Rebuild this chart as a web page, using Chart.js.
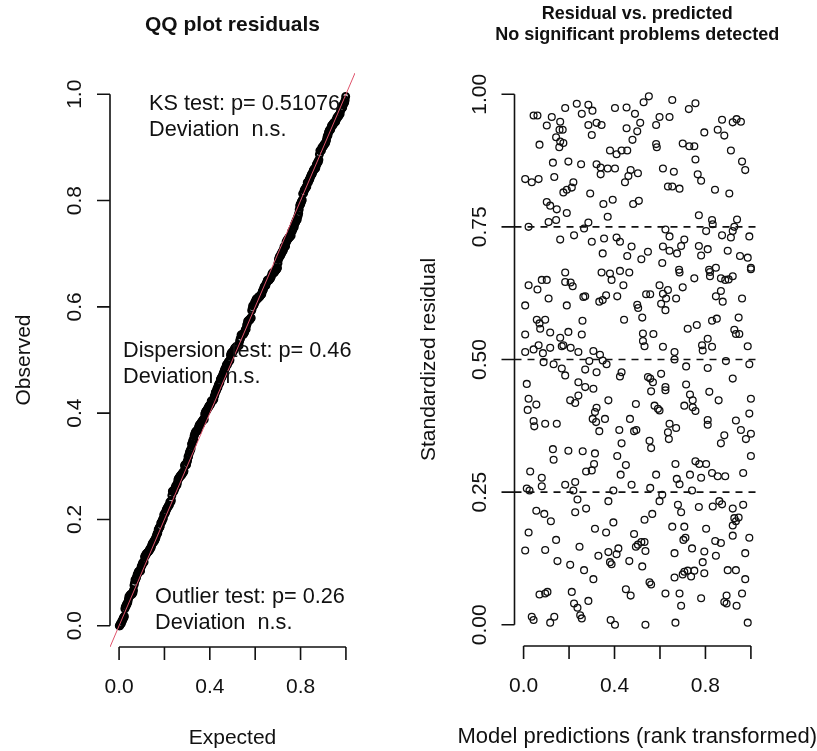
<!DOCTYPE html>
<html>
<head>
<meta charset="utf-8">
<script src="https://cdn.jsdelivr.net/npm/chart.js@4.4.1/dist/chart.umd.min.js"></script>
<style>
  body { margin: 0; background: #fff; }
  #wrap { position: relative; width: 817px; height: 751px; overflow: hidden; }
  canvas { position: absolute; top: 0; }
  #qq { left: 0; }
  #resid { left: 410px; }
</style>
</head>
<body>
<div id="wrap">
  <canvas id="qq" width="410" height="751"></canvas>
  <canvas id="resid" width="407" height="751"></canvas>
</div>
<script>
// scaled residuals: rank-transformed prediction (x) and residual (y)
var predX = [
  0.183, 0.234, 0.285, 0.256, 0.303, 0.402, 0.453, 0.490, 0.044, 0.061,
  0.124, 0.161, 0.102, 0.158, 0.172, 0.285, 0.321, 0.343, 0.453, 0.500,
  0.300, 0.143, 0.161, 0.175, 0.157, 0.070, 0.479, 0.380, 0.409, 0.431,
  0.456, 0.129, 0.197, 0.253, 0.321, 0.339, 0.370, 0.402, 0.339, 0.471,
  0.461, 0.446, 0.007, 0.036, 0.066, 0.135, 0.219, 0.212, 0.190, 0.175,
  0.293, 0.102, 0.117, 0.146, 0.190, 0.351, 0.392, 0.482, 0.370, 0.110,
  0.143, 0.022, 0.285, 0.266, 0.222, 0.161, 0.300, 0.354, 0.409, 0.424,
  0.475, 0.348, 0.456, 0.551, 0.528, 0.654, 0.756, 0.727, 0.513, 0.598,
  0.642, 0.583, 0.795, 0.873, 0.920, 0.937, 0.956, 0.854, 0.883, 0.583,
  0.586, 0.700, 0.729, 0.751, 0.912, 0.756, 0.961, 0.975, 0.613, 0.661,
  0.503, 0.766, 0.781, 0.635, 0.654, 0.686, 0.842, 0.905, 0.507, 0.771,
  0.829, 0.832, 0.939, 0.927, 0.624, 0.642, 0.707, 0.693, 0.803, 0.873,
  0.912, 0.920, 0.993, 0.613, 0.642, 0.675, 0.771, 0.810, 0.781, 0.547,
  0.518, 0.610, 0.898, 0.952, 0.986, 1.000, 0.846, 0.816, 0.684, 0.183,
  0.343, 0.380, 0.424, 0.465, 0.387, 0.022, 0.061, 0.080, 0.102, 0.183,
  0.207, 0.216, 0.439, 0.110, 0.271, 0.263, 0.363, 0.348, 0.333, 0.412,
  0.007, 0.190, 0.500, 0.504, 0.058, 0.095, 0.070, 0.073, 0.259, 0.442,
  0.007, 0.117, 0.197, 0.256, 0.161, 0.168, 0.175, 0.066, 0.044, 0.007,
  0.117, 0.085, 0.207, 0.241, 0.307, 0.336, 0.348, 0.365, 0.289, 0.088,
  0.132, 0.168, 0.183, 0.271, 0.321, 0.431, 0.424, 0.014, 0.241, 0.271,
  0.307, 0.022, 0.056, 0.018, 0.241, 0.205, 0.227, 0.373, 0.494, 0.321,
  0.314, 0.304, 0.319, 0.358, 0.468, 0.044, 0.047, 0.095, 0.146, 0.333,
  0.421, 0.486, 0.431, 0.129, 0.197, 0.260, 0.314, 0.686, 0.751, 0.820,
  0.820, 0.868, 0.887, 0.920, 0.902, 1.000, 0.700, 0.598, 0.613, 0.635,
  0.627, 0.605, 0.624, 0.539, 0.557, 0.671, 0.868, 0.846, 0.876, 0.961,
  0.522, 0.722, 0.762, 0.829, 0.850, 0.946, 0.525, 0.571, 0.525, 0.532,
  0.927, 0.934, 0.949, 0.810, 0.785, 0.829, 0.788, 0.613, 0.664, 0.664,
  0.986, 0.890, 0.993, 0.715, 0.810, 0.547, 0.557, 0.605, 0.569, 0.920,
  0.715, 0.561, 0.624, 0.624, 0.732, 0.744, 0.707, 0.744, 0.756, 0.817,
  0.858, 1.000, 0.576, 0.591, 0.598, 0.993, 0.642, 0.671, 0.635, 0.639,
  0.810, 0.810, 0.934, 0.956, 0.978, 1.000, 0.883, 0.868, 0.554, 0.561,
  0.496, 0.132, 0.412, 0.450, 0.427, 0.310, 0.300, 0.275, 0.029, 0.080,
  0.080, 0.014, 0.026, 0.183, 0.227, 0.219, 0.237, 0.395, 0.373, 0.475,
  0.056, 0.091, 0.120, 0.227, 0.275, 0.022, 0.314, 0.363, 0.395, 0.486,
  0.143, 0.007, 0.095, 0.246, 0.329, 0.373, 0.417, 0.409, 0.380, 0.387,
  0.494, 0.149, 0.205, 0.266, 0.307, 0.465, 0.070, 0.095, 0.105, 0.212,
  0.222, 0.237, 0.249, 0.256, 0.285, 0.450, 0.471, 0.036, 0.044, 0.135,
  0.117, 0.383, 0.402, 1.000, 0.668, 0.756, 0.773, 0.803, 0.966, 0.583,
  0.732, 0.781, 0.829, 0.854, 0.887, 0.674, 0.686, 0.557, 0.610, 0.598,
  0.741, 0.679, 0.693, 0.771, 0.832, 0.861, 0.873, 0.920, 0.966, 0.566,
  0.532, 0.927, 0.946, 0.920, 0.934, 0.654, 0.707, 0.803, 0.712, 0.703,
  0.920, 0.993, 0.518, 0.532, 0.503, 0.536, 0.741, 0.843, 0.868, 0.664,
  0.795, 0.846, 0.975, 0.788, 0.522, 0.707, 0.722, 0.700, 0.737, 0.751,
  0.795, 0.664, 0.898, 0.934, 0.975, 0.554, 0.561, 0.624, 0.686, 0.781,
  0.693, 0.893, 0.883, 0.893, 0.937, 0.961, 0.536, 0.668, 0.986
];
var residY = [
  0.974, 0.982, 0.980, 0.963, 0.969, 0.974, 0.975, 0.963, 0.960, 0.960,
  0.957, 0.948, 0.941, 0.933, 0.933, 0.942, 0.946, 0.942, 0.936, 0.930,
  0.923, 0.919, 0.911, 0.908, 0.900, 0.905, 0.914, 0.894, 0.887, 0.894,
  0.894, 0.871, 0.873, 0.868, 0.868, 0.862, 0.860, 0.860, 0.849, 0.857,
  0.846, 0.834, 0.840, 0.834, 0.840, 0.844, 0.834, 0.824, 0.820, 0.815,
  0.813, 0.797, 0.790, 0.783, 0.776, 0.793, 0.801, 0.793, 0.769, 0.759,
  0.763, 0.750, 0.758, 0.747, 0.734, 0.726, 0.722, 0.728, 0.730, 0.722,
  0.713, 0.700, 0.695, 0.996, 0.985, 0.989, 0.983, 0.972, 0.946, 0.957,
  0.957, 0.942, 0.928, 0.952, 0.947, 0.953, 0.948, 0.933, 0.922, 0.906,
  0.900, 0.907, 0.902, 0.902, 0.894, 0.877, 0.873, 0.857, 0.860, 0.854,
  0.851, 0.849, 0.837, 0.826, 0.826, 0.822, 0.820, 0.813, 0.799, 0.772,
  0.763, 0.755, 0.764, 0.750, 0.745, 0.732, 0.726, 0.714, 0.742, 0.734,
  0.730, 0.742, 0.732, 0.713, 0.705, 0.700, 0.714, 0.708, 0.696, 0.703,
  0.689, 0.682, 0.705, 0.695, 0.692, 0.673, 0.673, 0.669, 0.669, 0.664,
  0.664, 0.662, 0.667, 0.664, 0.650, 0.640, 0.632, 0.650, 0.650, 0.646,
  0.645, 0.638, 0.640, 0.615, 0.619, 0.618, 0.621, 0.612, 0.609, 0.619,
  0.602, 0.602, 0.603, 0.597, 0.575, 0.575, 0.568, 0.558, 0.573, 0.575,
  0.547, 0.551, 0.552, 0.547, 0.541, 0.525, 0.527, 0.527, 0.519, 0.514,
  0.522, 0.512, 0.522, 0.514, 0.516, 0.509, 0.498, 0.491, 0.497, 0.495,
  0.491, 0.483, 0.470, 0.481, 0.476, 0.476, 0.468, 0.454, 0.457, 0.448,
  0.445, 0.426, 0.415, 0.405, 0.432, 0.423, 0.418, 0.423, 0.416, 0.409,
  0.401, 0.388, 0.382, 0.388, 0.388, 0.384, 0.374, 0.379, 0.379, 0.365,
  0.367, 0.365, 0.342, 0.331, 0.328, 0.327, 0.323, 0.664, 0.653, 0.665,
  0.657, 0.653, 0.650, 0.657, 0.651, 0.670, 0.636, 0.640, 0.624, 0.631,
  0.615, 0.605, 0.593, 0.623, 0.623, 0.615, 0.629, 0.619, 0.609, 0.615,
  0.579, 0.558, 0.565, 0.573, 0.577, 0.579, 0.549, 0.548, 0.535, 0.525,
  0.556, 0.548, 0.548, 0.539, 0.527, 0.524, 0.517, 0.524, 0.514, 0.500,
  0.525, 0.497, 0.491, 0.487, 0.484, 0.467, 0.464, 0.473, 0.457, 0.464,
  0.453, 0.440, 0.448, 0.442, 0.434, 0.423, 0.413, 0.410, 0.403, 0.439,
  0.423, 0.426, 0.413, 0.407, 0.404, 0.398, 0.379, 0.371, 0.363, 0.350,
  0.386, 0.377, 0.385, 0.367, 0.350, 0.360, 0.357, 0.342, 0.347, 0.333,
  0.367, 0.311, 0.318, 0.301, 0.283, 0.303, 0.291, 0.289, 0.289, 0.277,
  0.261, 0.257, 0.253, 0.264, 0.269, 0.253, 0.236, 0.253, 0.233, 0.264,
  0.215, 0.209, 0.195, 0.212, 0.219, 0.174, 0.181, 0.174, 0.193, 0.171,
  0.160, 0.140, 0.141, 0.147, 0.130, 0.137, 0.144, 0.133, 0.118, 0.114,
  0.147, 0.120, 0.113, 0.103, 0.086, 0.120, 0.057, 0.059, 0.062, 0.062,
  0.040, 0.032, 0.018, 0.012, 0.045, 0.067, 0.055, 0.015, 0.009, 0.015,
  0.004, 0.009, 0.000, 0.318, 0.303, 0.308, 0.303, 0.303, 0.286, 0.283,
  0.283, 0.277, 0.286, 0.280, 0.280, 0.275, 0.265, 0.258, 0.245, 0.233,
  0.253, 0.226, 0.212, 0.222, 0.223, 0.233, 0.227, 0.219, 0.226, 0.209,
  0.198, 0.201, 0.202, 0.187, 0.195, 0.185, 0.185, 0.181, 0.164, 0.160,
  0.168, 0.164, 0.156, 0.156, 0.151, 0.139, 0.144, 0.158, 0.154, 0.135,
  0.138, 0.130, 0.135, 0.118, 0.110, 0.100, 0.102, 0.095, 0.091, 0.102,
  0.097, 0.089, 0.103, 0.103, 0.086, 0.080, 0.076, 0.059, 0.059, 0.050,
  0.036, 0.055, 0.043, 0.040, 0.036, 0.059, 0.000, 0.004, 0.004
];

var xTickValues = [0, 0.2, 0.4, 0.6, 0.8, 1.0];
var xTickLabels = ['0.0', '', '0.4', '', '0.8', ''];
var qqTickValues = [0, 0.2, 0.4, 0.6, 0.8, 1.0];
var qqTickLabels = ['0.0', '0.2', '0.4', '0.6', '0.8', '1.0'];
var residTickValues = [0, 0.25, 0.5, 0.75, 1.0];
var residTickLabels = ['0.00', '0.25', '0.50', '0.75', '1.00'];
var quantileLines = [0.25, 0.5, 0.75];

var testNotes = [
  ['KS test: p= 0.51076', 'Deviation  n.s.'],
  ['Dispersion test: p= 0.46', 'Deviation  n.s.'],
  ['Outlier test: p= 0.26', 'Deviation  n.s.']
];

// R style plot region: 4% padding around [0, 1]
var axisMin = -0.04, axisMax = 1.04;
var FONT = '"Liberation Sans", Arial, sans-serif';

// observed quantiles against uniform expectation
var qqObserved = residY.slice().sort(function(a, b){ return a - b; });
var qqPoints = qqObserved.map(function(v, i){
  return { x: (i + 0.5) / qqObserved.length, y: v };
});
var residPoints = predX.map(function(x, i){ return { x: x, y: residY[i] }; });

function text(ctx, str, x, y, size, bold, align, rotate) {
  ctx.save();
  ctx.font = (bold ? 'bold ' : '') + size + 'px ' + FONT;
  ctx.textAlign = align || 'center';
  ctx.textBaseline = 'alphabetic';
  ctx.translate(x, y);
  if (rotate) ctx.rotate(-Math.PI / 2);
  ctx.fillText(str, 0, 0);
  ctx.restore();
}

// base-graphics look: axes span first to last tick, ticks point outwards
var rStyle = {
  id: 'rStyle',
  afterDraw: function(chart, args, opts) {
    var ctx = chart.ctx, a = chart.chartArea;
    var xs = chart.scales.x, ys = chart.scales.y;
    var tick = 13;
    ctx.save();
    ctx.strokeStyle = '#111';
    ctx.fillStyle = '#111';
    ctx.lineWidth = 1.6;

    var x0 = xs.getPixelForValue(xTickValues[0]);
    var x1 = xs.getPixelForValue(xTickValues[xTickValues.length - 1]);
    ctx.beginPath();
    ctx.moveTo(x0, a.bottom); ctx.lineTo(x1, a.bottom);
    xTickValues.forEach(function(v){
      var px = xs.getPixelForValue(v);
      ctx.moveTo(px, a.bottom); ctx.lineTo(px, a.bottom + tick);
    });
    var yv = opts.yTicks;
    var y0 = ys.getPixelForValue(yv[0]);
    var y1 = ys.getPixelForValue(yv[yv.length - 1]);
    ctx.moveTo(a.left, y0); ctx.lineTo(a.left, y1);
    yv.forEach(function(v){
      var py = ys.getPixelForValue(v);
      ctx.moveTo(a.left, py); ctx.lineTo(a.left - tick, py);
    });
    ctx.stroke();

    xTickValues.forEach(function(v, i){
      if (xTickLabels[i]) text(ctx, xTickLabels[i], xs.getPixelForValue(v), a.bottom + 46, 21);
    });
    yv.forEach(function(v, i){
      text(ctx, opts.yLabels[i], a.left - 29, ys.getPixelForValue(v), 21, false, 'center', true);
    });

    var cx = (a.left + a.right) / 2;
    text(ctx, opts.xTitle, cx, a.bottom + 97, opts.xTitleSize);
    text(ctx, opts.yTitle, a.left - 80, (a.top + a.bottom) / 2, 21, false, 'center', true);
    opts.title.forEach(function(t){
      text(ctx, t.text, cx, t.y, t.size, true);
    });
    (opts.notes || []).forEach(function(n){
      n.lines.forEach(function(l, k){
        text(ctx, l, a.left + n.dx, a.top + n.dy + k * 26, 21.7, false, 'left');
      });
    });
    ctx.restore();
  }
};

function baseOptions(padding, extra) {
  return {
    responsive: false,
    animation: false,
    devicePixelRatio: 1,
    layout: { padding: padding },
    scales: {
      x: { type: 'linear', min: axisMin, max: axisMax, display: false },
      y: { type: 'linear', min: axisMin, max: axisMax, display: false }
    },
    plugins: {
      legend: { display: false },
      tooltip: { enabled: false },
      rStyle: extra
    }
  };
}

new Chart(document.getElementById('qq'), {
  type: 'scatter',
  data: {
    datasets: [
      {
        data: [{ x: axisMin, y: axisMin }, { x: axisMax, y: axisMax }],
        showLine: true, borderColor: '#DF536B', borderWidth: 1,
        pointRadius: 0, order: 0
      },
      {
        data: qqPoints, order: 1,
        pointRadius: 3.4, pointBorderWidth: 2.2,
        pointBorderColor: '#000', pointBackgroundColor: 'rgba(0,0,0,0)'
      }
    ]
  },
  options: baseOptions({ left: 110, right: 55, top: 73, bottom: 104 }, {
    yTicks: qqTickValues,
    yLabels: qqTickLabels,
    xTitle: 'Expected',
    xTitleSize: 21,
    yTitle: 'Observed',
    title: [{ text: 'QQ plot residuals', y: 31, size: 21 }],
    notes: [
      { dx: 39, dy: 37, lines: testNotes[0] },
      { dx: 13, dy: 284, lines: testNotes[1] },
      { dx: 45, dy: 530, lines: testNotes[2] }
    ]
  }),
  plugins: [rStyle]
});

var residSets = quantileLines.map(function(q){
  return {
    data: [{ x: axisMin, y: q }, { x: axisMax, y: q }],
    showLine: true, borderColor: '#111', borderWidth: 1.6,
    borderDash: [7, 6], pointRadius: 0, order: 0
  };
});
residSets.push({
  data: residPoints, order: 1,
  pointRadius: 3.4, pointBorderWidth: 1.3,
  pointBorderColor: '#111', pointBackgroundColor: 'rgba(0,0,0,0)'
});

new Chart(document.getElementById('resid'), {
  type: 'scatter',
  data: { datasets: residSets },
  options: baseOptions({ left: 104.5, right: 57, top: 73, bottom: 105 }, {
    yTicks: residTickValues,
    yLabels: residTickLabels,
    xTitle: 'Model predictions (rank transformed)',
    xTitleSize: 22,
    yTitle: 'Standardized residual',
    title: [
      { text: 'Residual vs. predicted', y: 19, size: 18 },
      { text: 'No significant problems detected', y: 40, size: 18 }
    ]
  }),
  plugins: [rStyle]
});
</script>
</body>
</html>
